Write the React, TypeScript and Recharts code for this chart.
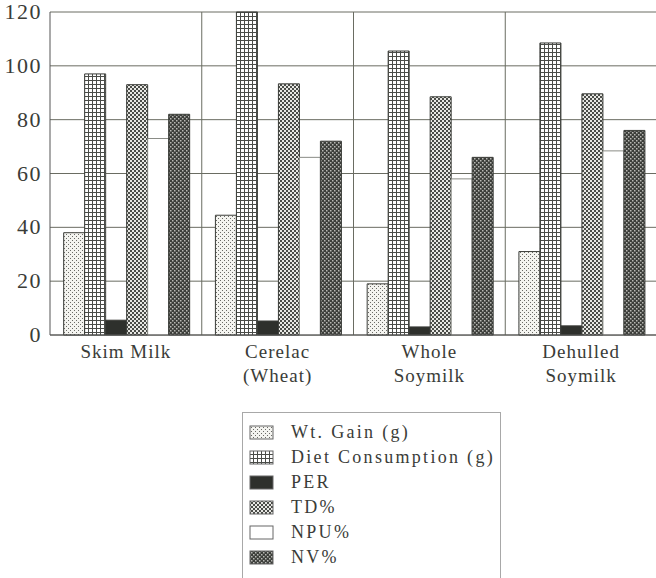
import React from 'react';
import { BarChart, Bar, XAxis, YAxis, CartesianGrid, Legend } from 'recharts';

const categories = ['Skim Milk', 'Cerelac\n(Wheat)', 'Whole\nSoymilk', 'Dehulled\nSoymilk'];
const wtGain = [38, 44.5, 19, 31];
const dietConsumption = [97, 120, 105.5, 108.5];
const per = [5.5, 5.2, 3, 3.4];
const td = [93, 93.3, 88.5, 89.6];
const npu = [73, 66, 58, 68.4];
const nv = [82, 72, 66, 76];
const yTicks = [0, 20, 40, 60, 80, 100, 120];

const series = [
  { key: 'wt', name: 'Wt. Gain (g)', fill: 'url(#pDots)', values: wtGain },
  { key: 'diet', name: 'Diet Consumption (g)', fill: 'url(#pGrid)', values: dietConsumption },
  { key: 'per', name: 'PER', fill: '#2e302c', values: per },
  { key: 'td', name: 'TD%', fill: 'url(#pChecker)', values: td },
  { key: 'npu', name: 'NPU%', fill: '#ffffff', values: npu },
  { key: 'nv', name: 'NV%', fill: 'url(#pDark)', values: nv },
];

const data = categories.map((name, i) => {
  const row: Record<string, string | number> = { name };
  series.forEach((s) => {
    row[s.key] = s.values[i];
  });
  return row;
});

const serif = "'Times New Roman', 'Liberation Serif', 'DejaVu Serif', Times, serif";
const ink = '#3a3c38';

const CategoryTick = (props: any) => {
  const { x, y, payload } = props;
  const lines = String(payload.value).split('\n');
  return (
    <text x={x} y={y} textAnchor="middle" style={{ fontFamily: serif, fontSize: 19, fill: ink, letterSpacing: 1 }}>
      {lines.map((l, i) => (
        <tspan key={i} x={x} dy={i === 0 ? 15 : 24}>
          {l}
        </tspan>
      ))}
    </text>
  );
};

const ValueTick = (props: any) => {
  const { x, y, payload } = props;
  return (
    <text
      x={x}
      y={y}
      dy={7}
      textAnchor="end"
      style={{ fontFamily: serif, fontSize: 22, fill: ink, letterSpacing: 1.5 }}
    >
      {payload.value}
    </text>
  );
};

const LegendBox = () => (
  <div
    style={{
      border: '1px solid #a8a8a8',
      padding: '7px 0 20px 6px',
      fontFamily: serif,
      fontSize: 18,
      color: ink,
      background: '#fff',
      boxSizing: 'border-box',
      height: 180,
    }}
  >
    {series.map((s) => (
      <div key={s.key} style={{ display: 'flex', alignItems: 'center', height: 25, letterSpacing: 2.3, whiteSpace: 'nowrap' }}>
        <svg width={26} height={16} style={{ marginRight: 16, flex: 'none' }}>
          <rect x={1} y={1} width={23} height={13} fill={s.fill} stroke="#666" strokeWidth={1} />
        </svg>
        <span>{s.name}</span>
      </div>
    ))}
  </div>
);

export default function App() {
  return (
    <div style={{ position: 'absolute', left: 0, top: 0, width: 656, height: 578, overflow: 'hidden', background: '#fff' }}>
      <BarChart
        width={660}
        height={578}
        data={data}
        margin={{ top: 12, right: 3, left: 0, bottom: 0 }}
        barGap={0}
        barCategoryGap="9%"
      >
        <defs>
          <pattern id="pDots" width="4" height="4" patternUnits="userSpaceOnUse">
            <rect width="4" height="4" fill="#f4f4f0" />
            <rect x="0" y="0" width="1" height="1" fill="#6a6a66" />
            <rect x="2" y="2" width="1" height="1" fill="#6a6a66" />
          </pattern>
          <pattern id="pGrid" width="4" height="4" patternUnits="userSpaceOnUse">
            <rect width="4" height="4" fill="#ffffff" />
            <rect x="0" y="0" width="4" height="1" fill="#4a4c48" />
            <rect x="0" y="0" width="1" height="4" fill="#4a4c48" />
          </pattern>
          <pattern id="pChecker" width="4" height="4" patternUnits="userSpaceOnUse">
            <rect width="4" height="4" fill="#e8e8e4" />
            <rect x="0" y="0" width="2" height="2" fill="#4a4c48" />
            <rect x="2" y="2" width="2" height="2" fill="#4a4c48" />
          </pattern>
          <pattern id="pDark" width="4" height="4" patternUnits="userSpaceOnUse">
            <rect width="4" height="4" fill="#3c3e3a" />
            <rect x="0" y="0" width="1.5" height="1.5" fill="#b8b8b4" />
            <rect x="2" y="2" width="1.5" height="1.5" fill="#b8b8b4" />
          </pattern>
        </defs>
        <CartesianGrid
          stroke="#6a6c62"
          strokeWidth={1}
          verticalCoordinatesGenerator={({ offset }: any) =>
            categories.map((_, i) => offset.left + ((i + 1) * offset.width) / categories.length)
          }
        />
        <XAxis
          dataKey="name"
          interval={0}
          tickLine={false}
          axisLine={{ stroke: '#555', strokeWidth: 1 }}
          height={243}
          tick={<CategoryTick />}
        />
        <YAxis
          domain={[0, 120]}
          ticks={yTicks}
          width={50}
          tickLine={false}
          tickMargin={2}
          axisLine={{ stroke: '#555', strokeWidth: 1 }}
          tick={<ValueTick />}
        />
        {series.map((s) => (
          <Bar
            key={s.key}
            dataKey={s.key}
            name={s.name}
            fill={s.fill}
            stroke={s.key === 'npu' ? '#8a8c86' : '#3a3c38'}
            strokeWidth={1}
            isAnimationActive={false}
          />
        ))}
        <Legend
          layout="vertical"
          align="center"
          verticalAlign="middle"
          content={<LegendBox />}
          wrapperStyle={{ left: 242, top: 412, width: 259, height: 180 }}
        />
      </BarChart>
    </div>
  );
}
